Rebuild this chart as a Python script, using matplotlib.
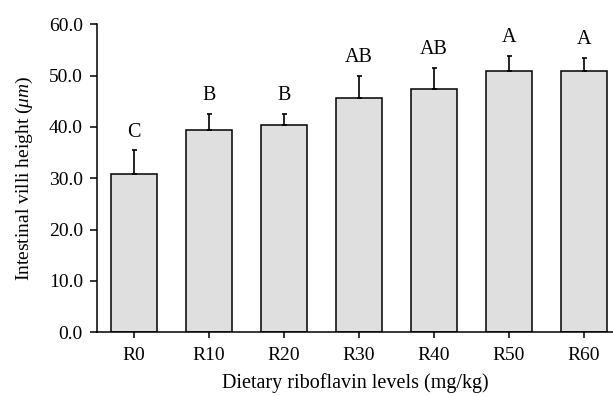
import matplotlib
matplotlib.use("Agg")
import matplotlib.pyplot as plt

groups = ["R0", "R10", "R20", "R30", "R40", "R50", "R60"]
heights = [30.8, 39.3, 40.4, 45.6, 47.4, 50.8, 50.8]
sd = [4.6, 3.2, 2.1, 4.3, 4.0, 3.0, 2.6]
letters = ["C", "B", "B", "AB", "AB", "A", "A"]

plt.rcParams["font.family"] = ["Liberation Serif", "DejaVu Serif"]
plt.rcParams["mathtext.fontset"] = "custom"
plt.rcParams["mathtext.it"] = "Liberation Serif:italic"
plt.rcParams["mathtext.rm"] = "Liberation Serif"

fig = plt.figure(figsize=(6.13, 3.96), dpi=100)
ax = fig.add_axes([0.158, 0.161, 0.842, 0.778])

x = list(range(len(groups)))
ax.bar(x, heights, width=0.62, color="#e0dfe0", edgecolor="black", linewidth=1.1,
       yerr=[[0] * len(sd), sd], capsize=1.8,
       error_kw=dict(elinewidth=1.2, capthick=1.2, ecolor="black"), zorder=2)

for xi, h, s, lab in zip(x, heights, sd, letters):
    ax.annotate(lab, (xi, h + s), xytext=(0, 10), textcoords="offset points",
                ha="center", va="baseline", fontsize=14.5)

ax.set_xlim(-0.493, 6.39)
ax.set_ylim(0, 60)
ax.set_yticks([0, 10, 20, 30, 40, 50, 60])
ax.set_yticklabels(["%.1f" % v for v in [0, 10, 20, 30, 40, 50, 60]])
ax.set_xticks(x)
ax.set_xticklabels(groups)
ax.tick_params(axis="both", width=1.1, length=5, direction="out")
ax.tick_params(axis="y", labelsize=14, pad=5)
ax.tick_params(axis="x", labelsize=14, pad=6, length=4.5)
for sp in ["top", "right"]:
    ax.spines[sp].set_visible(False)
for sp in ["left", "bottom"]:
    ax.spines[sp].set_linewidth(1.1)

ax.set_xlabel("Dietary riboflavin levels (mg/kg)", fontsize=14.5, labelpad=7)
ax.set_ylabel("Intestinal villi height ($\\mathit{\\mu m}$)", fontsize=14, labelpad=10)

fig.savefig("out.png", dpi=100)
